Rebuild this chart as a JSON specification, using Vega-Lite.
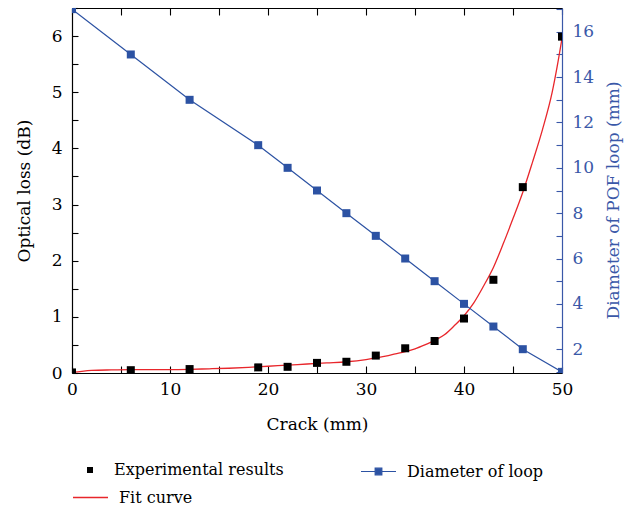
{
  "$schema": "https://vega.github.io/schema/vega-lite/v6.json",
  "width": 490,
  "height": 365,
  "autosize": {"type": "none"},
  "padding": {"left": 72, "top": 8, "right": 75, "bottom": 135},
  "background": "white",
  "config": {
    "view": {"stroke": null},
    "font": "DejaVu Serif",
    "axis": {
      "labelFont": "DejaVu Serif",
      "titleFont": "DejaVu Serif",
      "labelFontSize": 17,
      "titleFontSize": 17,
      "titleFontWeight": "normal",
      "grid": false,
      "labelFlush": false,
      "labelColor": "#000000",
      "titleColor": "#000000",
      "domainColor": "#000000",
      "tickColor": "#000000",
      "domainWidth": 1.2,
      "tickWidth": 1.1
    },
    "legend": {
      "labelFont": "DejaVu Serif",
      "labelFontSize": 16,
      "labelColor": "#000000",
      "labelLimit": 400,
      "padding": 0,
      "title": null
    }
  },
  "datasets": {
    "exp": [
      {"crack": 0, "loss": 0.01, "series": "Experimental results"},
      {"crack": 6, "loss": 0.05, "series": "Experimental results"},
      {"crack": 12, "loss": 0.07, "series": "Experimental results"},
      {"crack": 19, "loss": 0.10, "series": "Experimental results"},
      {"crack": 22, "loss": 0.11, "series": "Experimental results"},
      {"crack": 25, "loss": 0.18, "series": "Experimental results"},
      {"crack": 28, "loss": 0.20, "series": "Experimental results"},
      {"crack": 31, "loss": 0.31, "series": "Experimental results"},
      {"crack": 34, "loss": 0.44, "series": "Experimental results"},
      {"crack": 37, "loss": 0.57, "series": "Experimental results"},
      {"crack": 40, "loss": 0.97, "series": "Experimental results"},
      {"crack": 43, "loss": 1.66, "series": "Experimental results"},
      {"crack": 46, "loss": 3.31, "series": "Experimental results"},
      {"crack": 50, "loss": 5.99, "series": "Experimental results"}
    ],
    "fit": [
      {"crack": 0, "loss": 0.01, "series": "Fit curve"},
      {"crack": 1, "loss": 0.03, "series": "Fit curve"},
      {"crack": 2, "loss": 0.045, "series": "Fit curve"},
      {"crack": 4, "loss": 0.055, "series": "Fit curve"},
      {"crack": 6, "loss": 0.06, "series": "Fit curve"},
      {"crack": 8, "loss": 0.06, "series": "Fit curve"},
      {"crack": 10, "loss": 0.06, "series": "Fit curve"},
      {"crack": 12, "loss": 0.065, "series": "Fit curve"},
      {"crack": 14, "loss": 0.075, "series": "Fit curve"},
      {"crack": 16, "loss": 0.085, "series": "Fit curve"},
      {"crack": 18, "loss": 0.10, "series": "Fit curve"},
      {"crack": 20, "loss": 0.12, "series": "Fit curve"},
      {"crack": 22, "loss": 0.14, "series": "Fit curve"},
      {"crack": 24, "loss": 0.16, "series": "Fit curve"},
      {"crack": 26, "loss": 0.18, "series": "Fit curve"},
      {"crack": 28, "loss": 0.20, "series": "Fit curve"},
      {"crack": 30, "loss": 0.24, "series": "Fit curve"},
      {"crack": 31, "loss": 0.27, "series": "Fit curve"},
      {"crack": 32, "loss": 0.30, "series": "Fit curve"},
      {"crack": 33, "loss": 0.34, "series": "Fit curve"},
      {"crack": 34, "loss": 0.38, "series": "Fit curve"},
      {"crack": 35, "loss": 0.43, "series": "Fit curve"},
      {"crack": 36, "loss": 0.50, "series": "Fit curve"},
      {"crack": 37, "loss": 0.58, "series": "Fit curve"},
      {"crack": 38, "loss": 0.68, "series": "Fit curve"},
      {"crack": 39, "loss": 0.84, "series": "Fit curve"},
      {"crack": 40, "loss": 1.02, "series": "Fit curve"},
      {"crack": 41, "loss": 1.25, "series": "Fit curve"},
      {"crack": 42, "loss": 1.55, "series": "Fit curve"},
      {"crack": 43, "loss": 1.88, "series": "Fit curve"},
      {"crack": 44, "loss": 2.30, "series": "Fit curve"},
      {"crack": 45, "loss": 2.75, "series": "Fit curve"},
      {"crack": 46, "loss": 3.22, "series": "Fit curve"},
      {"crack": 47, "loss": 3.76, "series": "Fit curve"},
      {"crack": 48, "loss": 4.33, "series": "Fit curve"},
      {"crack": 49, "loss": 5.00, "series": "Fit curve"},
      {"crack": 49.5, "loss": 5.45, "series": "Fit curve"},
      {"crack": 50, "loss": 5.96, "series": "Fit curve"}
    ],
    "dia": [
      {"crack": 0, "diameter": 17, "series": "Diameter of loop"},
      {"crack": 6, "diameter": 15, "series": "Diameter of loop"},
      {"crack": 12, "diameter": 13, "series": "Diameter of loop"},
      {"crack": 19, "diameter": 11, "series": "Diameter of loop"},
      {"crack": 22, "diameter": 10, "series": "Diameter of loop"},
      {"crack": 25, "diameter": 9, "series": "Diameter of loop"},
      {"crack": 28, "diameter": 8, "series": "Diameter of loop"},
      {"crack": 31, "diameter": 7, "series": "Diameter of loop"},
      {"crack": 34, "diameter": 6, "series": "Diameter of loop"},
      {"crack": 37, "diameter": 5, "series": "Diameter of loop"},
      {"crack": 40, "diameter": 4, "series": "Diameter of loop"},
      {"crack": 43, "diameter": 3, "series": "Diameter of loop"},
      {"crack": 46, "diameter": 2, "series": "Diameter of loop"},
      {"crack": 50, "diameter": 1, "series": "Diameter of loop"}
    ]
  },
  "layer": [
    {
      "encoding": {
        "x": {
          "field": "crack",
          "type": "quantitative",
          "scale": {"domain": [0, 50], "nice": false, "zero": false},
          "axis": {
            "orient": "bottom",
            "title": "Crack (mm)",
            "values": [0, 5, 10, 15, 20, 25, 30, 35, 40, 45, 50],
            "labelExpr": "datum.value % 10 === 0 ? format(datum.value, 'd') : ''",
            "tickSize": -7,
            "labelPadding": 15,
            "titlePadding": 19
          }
        },
        "y": {
          "field": "loss",
          "type": "quantitative",
          "scale": {"domain": [0, 6.5], "nice": false, "zero": false},
          "axis": {
            "orient": "left",
            "title": "Optical loss (dB)",
            "values": [0, 0.5, 1, 1.5, 2, 2.5, 3, 3.5, 4, 4.5, 5, 5.5, 6, 6.5],
            "labelExpr": "datum.value % 1 === 0 ? format(datum.value, 'd') : ''",
            "tickSize": -6,
            "labelPadding": 16,
            "titlePadding": 18
          }
        }
      },
      "layer": [
        {
          "data": {"name": "fit"},
          "mark": {"type": "line", "strokeWidth": 1.3, "clip": true, "interpolate": "monotone"},
          "encoding": {
            "stroke": {
              "field": "series",
              "type": "nominal",
              "scale": {"domain": ["Fit curve"], "range": ["#e8262b"]},
              "legend": {
                "orient": "none",
                "legendX": 0,
                "legendY": 471,
                "symbolType": "stroke",
                "symbolSize": 1225,
                "symbolStrokeWidth": 1.5,
                "labelOffset": 10
              }
            }
          }
        },
        {
          "data": {"name": "exp"},
          "mark": {"type": "point", "shape": "square", "filled": true, "size": 64, "opacity": 1, "clip": true},
          "encoding": {
            "fill": {
              "field": "series",
              "type": "nominal",
              "scale": {"domain": ["Experimental results"], "range": ["#000000"]},
              "legend": {
                "orient": "none",
                "legendX": 10,
                "legendY": 454,
                "symbolType": "square",
                "symbolSize": 36,
                "symbolOpacity": 1,
                "labelOffset": 16
              }
            }
          }
        }
      ]
    },
    {
      "data": {"name": "dia"},
      "mark": {
        "type": "line",
        "strokeWidth": 1.2,
        "clip": true,
        "point": {"shape": "square", "filled": true, "size": 64, "opacity": 1}
      },
      "encoding": {
        "x": {
          "field": "crack",
          "type": "quantitative",
          "scale": {"domain": [0, 50], "nice": false, "zero": false},
          "axis": {
            "orient": "top",
            "title": null,
            "values": [0, 5, 10, 15, 20, 25, 30, 35, 40, 45, 50],
            "labels": false,
            "tickSize": -7
          }
        },
        "y": {
          "field": "diameter",
          "type": "quantitative",
          "scale": {"domain": [0.95, 17.05], "nice": false, "zero": false},
          "axis": {
            "orient": "right",
            "title": "Diameter of POF loop (mm)",
            "titleAngle": 270,
            "titleBaseline": "top",
            "titleY": 192,
            "values": [1, 2, 3, 4, 5, 6, 7, 8, 9, 10, 11, 12, 13, 14, 15, 16, 17],
            "labelExpr": "datum.value % 2 === 0 ? format(datum.value, 'd') : ''",
            "tickSize": -6,
            "labelPadding": 16,
            "titlePadding": 12,
            "domainColor": "#3a58a8",
            "tickColor": "#3a58a8",
            "labelColor": "#3a58a8",
            "titleColor": "#3a58a8"
          }
        },
        "color": {
          "field": "series",
          "type": "nominal",
          "scale": {"domain": ["Diameter of loop"], "range": ["#2c52a3"]},
          "legend": {
            "orient": "none",
            "legendX": 288,
            "legendY": 445,
            "symbolType": "M-1,0H-0.19M0.19,0H1M-0.19,-0.19H0.19V0.19H-0.19Z",
            "symbolSize": 1225,
            "symbolStrokeWidth": 1.2,
            "symbolFillColor": "#2c52a3",
            "symbolStrokeColor": "#2c52a3",
            "labelOffset": 10
          }
        }
      }
    }
  ],
  "resolve": {
    "scale": {"y": "independent"},
    "axis": {"x": "independent", "y": "independent"}
  }
}
